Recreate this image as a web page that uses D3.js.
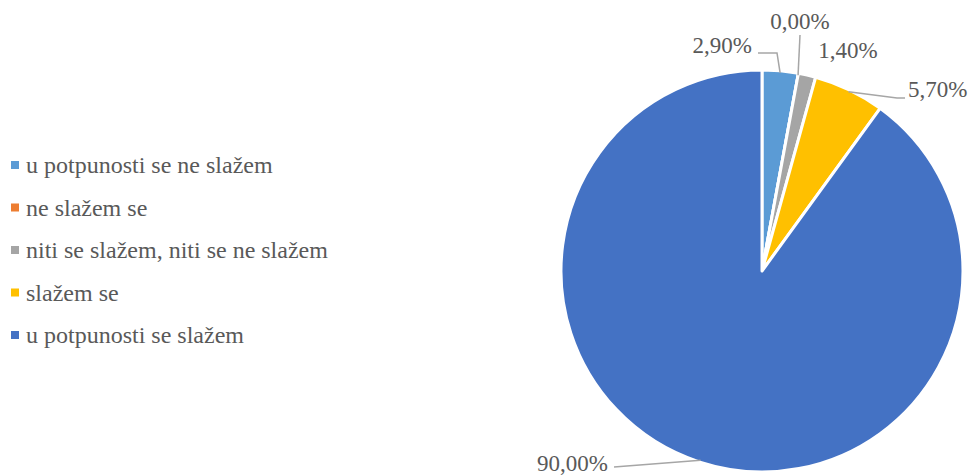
<!DOCTYPE html>
<html>
<head>
<meta charset="utf-8">
<script src="https://cdn.jsdelivr.net/npm/d3@7"></script>
</head>
<body style="margin:0">
<script>
var width = 970;
var height = 475;

// answer categories and shares (%)
var categories = ['u potpunosti se ne slažem', 'ne slažem se', 'niti se slažem, niti se ne slažem', 'slažem se', 'u potpunosti se slažem'];
var values = [2.9, 0.0, 1.4, 5.7, 90.0];
var valueLabels = ['2,90%', '0,00%', '1,40%', '5,70%', '90,00%'];
var colors = ['#5b9bd5', '#ed7d31', '#a5a5a5', '#ffc000', '#4472c4'];

var cx = 762;
var cy = 271;
var radius = 201;

// label placement: text anchor point, alignment and leader elbow
var labelPos = [
  { x: 752, y: 53, anchor: 'end', elbow: [777, 53], end: [758, 53] },
  { x: 800, y: 29, anchor: 'middle', elbow: null, end: [800, 35] },
  { x: 848, y: 58, anchor: 'middle', elbow: null, end: null },
  { x: 908, y: 97, anchor: 'start', elbow: [897, 98], end: [905, 98] },
  { x: 608, y: 471, anchor: 'end', elbow: null, end: [614, 467] }
];

var svg = d3.select('body')
            .append('svg')
            .attr('width', width)
            .attr('height', height)
            .style('font-family', '"Liberation Serif"');

var data = categories.map(function(c, i) {
  return { name: c, value: values[i], label: valueLabels[i], color: colors[i], pos: labelPos[i] };
});

var pie = d3.pie().sort(null).value(function(d) { return d.value; });
var arc = d3.arc().innerRadius(0).outerRadius(radius);
var arcs = pie(data);

var g = svg.append('g').attr('transform', 'translate(' + cx + ',' + cy + ')');

g.selectAll('path.slice')
  .data(arcs)
  .enter()
  .append('path')
  .attr('class', 'slice')
  .attr('d', arc)
  .attr('fill', function(d) { return d.data.color; })
  .attr('stroke', '#fff')
  .attr('stroke-width', 3)
  .attr('stroke-linejoin', 'round');

// leader lines from slice edge to label
arcs.forEach(function(d) {
  var p = d.data.pos;
  if (!p.end) return;
  var mid = (d.startAngle + d.endAngle) / 2;
  var sx = cx + (radius - 2) * Math.sin(mid);
  var sy = cy - (radius - 2) * Math.cos(mid);
  var pts = [[sx, sy]];
  if (p.elbow) pts.push(p.elbow);
  pts.push(p.end);
  svg.append('path')
    .attr('d', d3.line()(pts))
    .attr('fill', 'none')
    .attr('stroke', '#a6a6a6')
    .attr('stroke-width', 1.5);
});

svg.selectAll('text.value')
  .data(arcs)
  .enter()
  .append('text')
  .attr('class', 'value')
  .attr('x', function(d) { return d.data.pos.x; })
  .attr('y', function(d) { return d.data.pos.y; })
  .attr('text-anchor', function(d) { return d.data.pos.anchor; })
  .attr('font-size', 23)
  .attr('fill', '#595959')
  .style('font-family', '"Liberation Serif"')
  .text(function(d) { return d.data.label; });

// legend
var legendY = d3.scalePoint().domain(categories).range([165, 335]);

var legend = svg.selectAll('g.legend')
  .data(data)
  .enter()
  .append('g')
  .attr('class', 'legend')
  .attr('transform', function(d) { return 'translate(11,' + legendY(d.name) + ')'; });

legend.append('rect')
  .attr('x', 0)
  .attr('y', -4)
  .attr('width', 8)
  .attr('height', 8)
  .attr('fill', function(d) { return d.color; });

legend.append('text')
  .attr('x', 15)
  .attr('y', 8)
  .attr('font-size', 24)
  .attr('fill', '#595959')
  .style('font-family', '"Liberation Serif"')
  .text(function(d) { return d.name; });
</script>
</body>
</html>
